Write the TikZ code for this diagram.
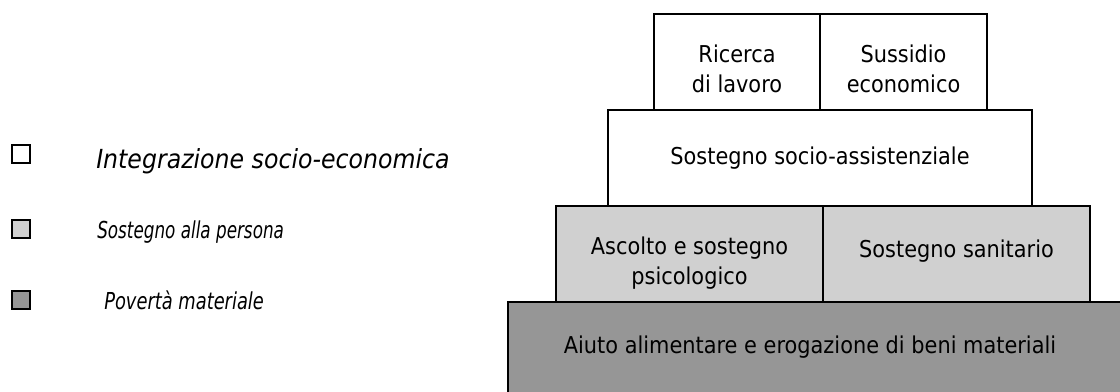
\documentclass[tikz,border=0pt]{standalone}
\usepackage{fontspec}
\setmainfont{DejaVu Sans}[FakeStretch=0.9]
\usetikzlibrary{fit}
\definecolor{lightfill}{RGB}{208,208,208}
\definecolor{darkfill}{RGB}{150,150,150}
\tikzset{
  blockbox/.style={draw=black, line width=1.5pt, inner sep=0pt},
  blocktext/.style={font=\fontsize{17.4}{22.5}\selectfont, align=center, inner sep=0pt},
  legsq/.style={draw=black, line width=1.4pt, inner sep=0pt, minimum size=14pt},
  legtext/.style={inner sep=0pt, anchor=base west}
}
\begin{document}
\begin{tikzpicture}[x=0.75pt, y=-0.75pt]
\useasboundingbox (0,0) rectangle (1120,392);
% blocks
\node[blockbox, fill=darkfill, fit={(508,302) (1130,400)}] (base) {};
\node[blockbox, fill=lightfill, fit={(556,206) (823,302)}] (psi) {};
\node[blockbox, fill=lightfill, fit={(823,206) (1090,302)}] (san) {};
\node[blockbox, fill=white, fit={(608,110) (1032,206)}] (soc) {};
\node[blockbox, fill=white, fit={(654,14) (820,110)}] (ric) {};
\node[blockbox, fill=white, fit={(820,14) (987,110)}] (sus) {};
% texts
\node[blocktext] (tric) at (737,69) {Ricerca\\di lavoro};
\node[blocktext] (tsus) at (903.5,69) {Sussidio\\economico};
\node[blocktext, anchor=base] (tsoc) at (820,165) {Sostegno socio-assistenziale};
\node[blocktext] (tpsi) at (689.5,263) {Ascolto e sostegno\\psicologico};
\node[blocktext, anchor=base] (tsan) at (956.5,257) {Sostegno sanitario};
\node[blocktext, anchor=base] (tbase) at (810,353) {Aiuto alimentare e erogazione di beni materiali};
% legend
\node[legsq, fill=white] (l1) at (21,154) {};
\node[legsq, fill=lightfill] (l2) at (21,229) {};
\node[legsq, fill=darkfill] (l3) at (21,300) {};
\node[legtext, font=\fontsize{19.7}{24}\selectfont\itshape] (lt1) at (96,169) {Integrazione socio-economica};
\node[legtext, font=\fontsize{17.5}{22}\selectfont\itshape] (lt2) at (97,238) {\scalebox{0.8}[1]{Sostegno alla persona}};
\node[legtext, font=\fontsize{17.5}{22}\selectfont\itshape] (lt3) at (104,309) {\scalebox{0.85}[1]{Povertà materiale}};
\end{tikzpicture}
\end{document}
